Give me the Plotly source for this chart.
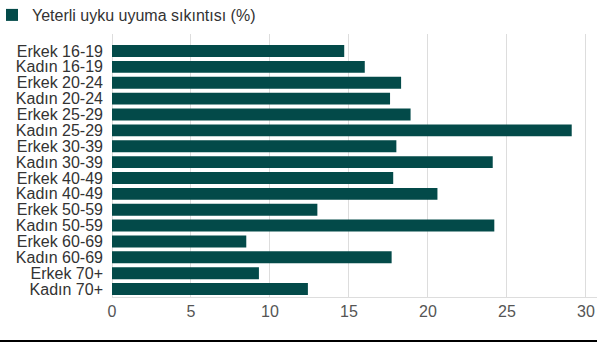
import plotly.graph_objects as go

categories = ["Erkek 16-19", "Kadın 16-19", "Erkek 20-24", "Kadın 20-24",
              "Erkek 25-29", "Kadın 25-29", "Erkek 30-39", "Kadın 30-39",
              "Erkek 40-49", "Kadın 40-49", "Erkek 50-59", "Kadın 50-59",
              "Erkek 60-69", "Kadın 60-69", "Erkek 70+", "Kadın 70+"]
values = [14.7, 16.0, 18.3, 17.6, 18.9, 29.1, 18.0, 24.1,
          17.8, 20.6, 13.0, 24.2, 8.5, 17.7, 9.3, 12.4]
series_name = "Yeterli uyku uyuma sıkıntısı (%)"
x_ticks = [0, 5, 10, 15, 20, 25, 30]

BAR = "#034A49"
PW, PH = 485, 263

fig = go.Figure()
fig.add_trace(go.Bar(
    y=categories, x=values, orientation="h", name=series_name,
    marker=dict(color=BAR, line=dict(width=0)), showlegend=True,
))

fig.update_layout(
    width=602, height=345,
    margin=dict(l=112, r=5, t=34, b=48, autoexpand=False),
    paper_bgcolor="white", plot_bgcolor="white",
    font=dict(family="Liberation Sans, Arial, sans-serif", color="#333333"),
    bargap=0.25,
    showlegend=True,
    legend=dict(xref="paper", yref="paper", x=-120 / PW, y=1 + 36 / PH,
                xanchor="left", yanchor="top", orientation="h",
                font=dict(size=16, color="#333333"),
                itemwidth=30, bgcolor="rgba(0,0,0,0)"),
    xaxis=dict(range=[0, 30.7], tickvals=x_ticks, showgrid=True,
               gridcolor="#dddddd", gridwidth=1, zeroline=True,
               zerolinecolor="#dddddd", zerolinewidth=1,
               showline=True, linecolor="#dddddd", linewidth=1,
               tickfont=dict(size=16, color="#555555"), ticks="", ticklen=0,
               automargin=False),
    yaxis=dict(type="category", categoryorder="array", categoryarray=categories,
               tickmode="array", tickvals=categories, ticktext=categories,
               range=[15.5, -1.07], showgrid=False, zeroline=False,
               tickfont=dict(size=16, color="#333333"), ticks="",
               ticklabelstandoff=8, automargin=False),
    shapes=[dict(type="line", xref="paper", yref="paper",
                 x0=-112 / PW, x1=1.0, y0=-(341 - 297) / PH, y1=-(341 - 297) / PH,
                 line=dict(color="black", width=2))],
)

fig.write_html("out.html")
